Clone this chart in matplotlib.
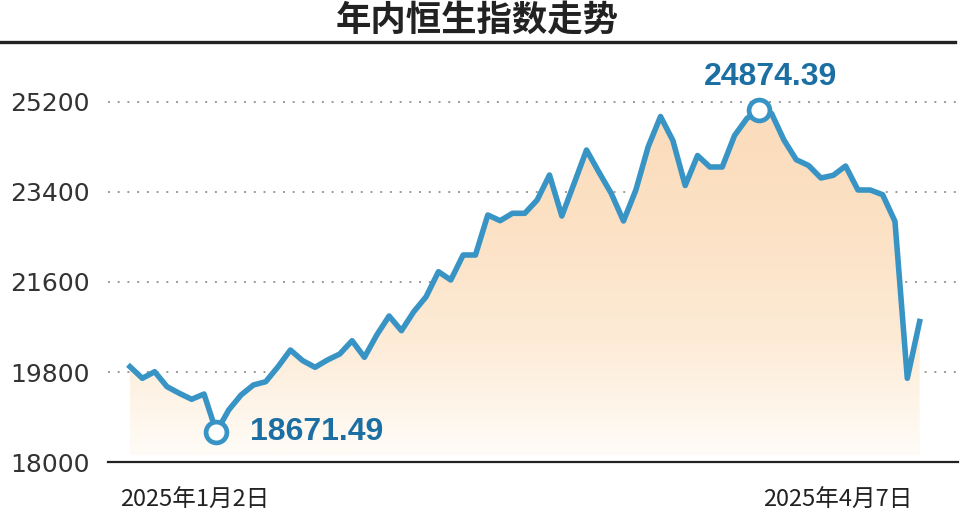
import numpy as np
import matplotlib
matplotlib.use('Agg')
import matplotlib.pyplot as plt
from matplotlib.lines import Line2D
from matplotlib.colors import LinearSegmentedColormap

# Hang Seng closes, one per trading day
values = [19906, 19674, 19806, 19506, 19374, 19254, 19360, 18600, 19040, 19340,
          19540, 19606, 19906, 20240, 20026, 19894, 20040, 20160, 20426, 20094,
          20540, 20920, 20626, 21006, 21306, 21806, 21640, 22140, 22140, 22940,
          22826, 22974, 22974, 23240, 23740, 22920, 23574, 24240, 23800, 23374,
          22820, 23440, 24306, 24910, 24430, 23530, 24130, 23900, 23900, 24530,
          24870, 25046, 24970, 24440, 24046, 23930, 23680, 23734, 23920, 23440,
          23440, 23346, 22814, 19674, 20810]
y_ticks = [18000, 19800, 21600, 23400, 25200]
low_idx = 7
high_idx = 51
low_label = '18671.49'
high_label = '24874.39'
start_label = '2025年1月2日'
end_label = '2025年4月7日'
title = '年内恒生指数走势'

cjk = ['Noto Sans CJK SC', 'DejaVu Sans']
line_color = '#3994c6'
text_blue = '#1b6fa3'

days = np.arange(len(values))

fig = plt.figure(figsize=(9.6, 5.19), dpi=100)
ax = fig.add_axes([108 / 960, 57 / 519, 850 / 960, 402 / 519])

# gradient fill under the line
poly = ax.fill_between(days, values, 18130, color='none', lw=0)
grad = np.linspace(0, 1, 256).reshape(-1, 1)
cmap = LinearSegmentedColormap.from_list('peach', ['#fffcf7', '#fdebd6', '#fce1c4', '#fbdcbb'])
im = ax.imshow(grad, extent=[days[0], days[-1], 18130, 25100], origin='lower',
               aspect='auto', cmap=cmap, zorder=1)
im.set_clip_path(poly.get_paths()[0], ax.transData)

ax.plot(days, values, color=line_color, lw=4, solid_joinstyle='round', zorder=3)

for i in (low_idx, high_idx):
    ax.plot(days[i], values[i], 'o', ms=15, mfc='white', mec=line_color, mew=3.4, zorder=4)

ax.annotate(low_label, (days[low_idx], values[low_idx]), xytext=(34, 0),
            textcoords='offset pixels', ha='left', va='center', fontsize=23,
            fontweight='bold', family='Liberation Sans', color=text_blue)
ax.annotate(high_label, (days[high_idx], values[high_idx]), xytext=(11, 33),
            textcoords='offset pixels', ha='center', va='center', fontsize=23,
            fontweight='bold', family='Liberation Sans', color=text_blue)

ax.set_xlim(-1.783, 67.11)
ax.set_ylim(18000, 26040)
ax.set_yticks(y_ticks)
ax.set_xticks([])
ax.set_axisbelow(True)
ax.grid(axis='y', ls=(0, (1, 4)), color='#9a9a9a', lw=1.4)
ax.tick_params(axis='y', length=0, pad=13, labelsize=18, labelcolor='#333333')
for s in ('left', 'right', 'top'):
    ax.spines[s].set_visible(False)
ax.spines['bottom'].set_color('#222222')
ax.spines['bottom'].set_linewidth(1.6)

fig.text(0.497, 1 - 20 / 519, title, ha='center', va='center', fontsize=25.5,
         fontweight='bold', family=cjk, color='#222222')
fig.add_artist(Line2D([0, 955 / 960], [1 - 42 / 519] * 2, transform=fig.transFigure,
                      color='#222222', lw=2.4))

fig.text(120 / 960, 1 - 500 / 519, start_label, ha='left', va='center', fontsize=17,
         family=cjk, color='#222222')
fig.text(912 / 960, 1 - 500 / 519, end_label, ha='right', va='center', fontsize=17,
         family=cjk, color='#222222')

fig.savefig('out.png', dpi=100)
